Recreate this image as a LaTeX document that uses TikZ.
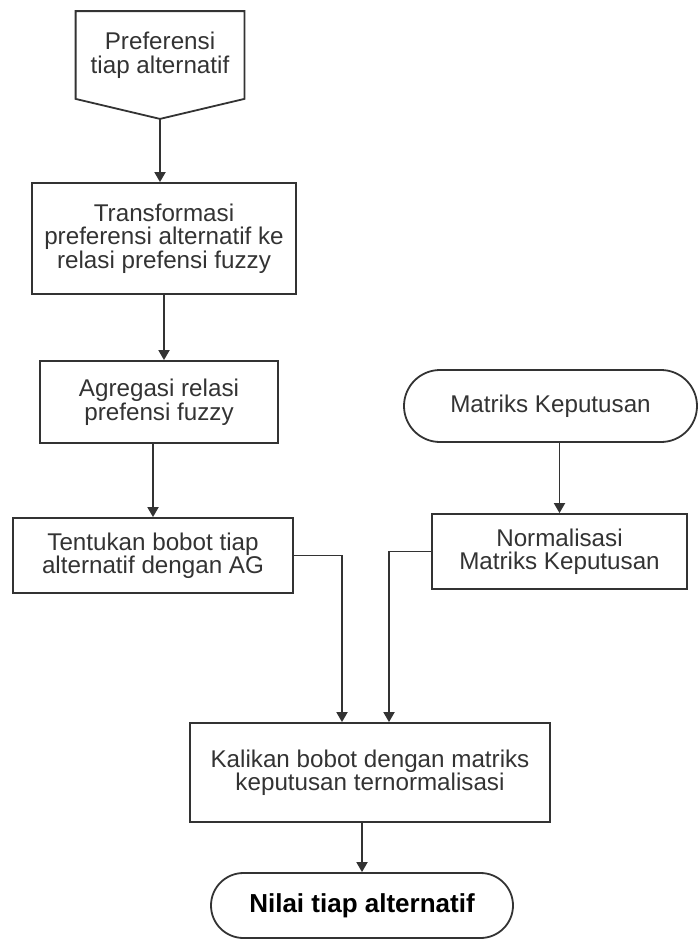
\documentclass[tikz,border=0pt]{standalone}
\usepackage{fontspec}
\setmainfont{Liberation Sans}
\usetikzlibrary{arrows.meta,shapes.misc,positioning}

\begin{document}
\begin{tikzpicture}[
    x=1pt, y=-1pt,
    >={Triangle[width=11pt,length=10pt]},
    line width=1.8pt,
    every node/.style={font=\fontsize{24.2}{23.5}\selectfont, text=black!80, align=center, inner sep=0pt},
    block/.style={rectangle, draw=black!80},
    term/.style={rounded rectangle, draw=black!80}
  ]
  \useasboundingbox (0,0) rectangle (699,940);

  % Blocks
  \node [minimum width=167, minimum height=86] (pref) at (160,55) {Preferensi\\tiap alternatif};
  \coordinate (preftip) at ([yshift=-20pt]pref.south);
  \draw [black!80] (pref.north west) -- (pref.north east) -- (pref.south east) -- (preftip) -- (pref.south west) -- cycle;

  \node [block, minimum width=264, minimum height=111] (trans) at (164,238.5) {Transformasi\\preferensi alternatif ke\\relasi prefensi fuzzy};
  \node [block, minimum width=238, minimum height=82] (agreg) at (159,402) {Agregasi relasi\\prefensi fuzzy};
  \node [block, minimum width=280, minimum height=75] (bobot) at (153,555.5) {Tentukan bobot tiap\\alternatif dengan AG};
  \node [term, minimum width=293, minimum height=72] (matriks) at (550.5,406) {Matriks Keputusan};
  \node [block, minimum width=255, minimum height=75] (norm) at (559.5,551.5) {Normalisasi\\Matriks Keputusan};
  \node [block, minimum width=360, minimum height=99] (kali) at (370,772.5) {Kalikan bobot dengan matriks\\keputusan ternormalisasi};
  \node [term, minimum width=302, minimum height=65, text=black, font=\bfseries\fontsize{26}{26}\selectfont] (nilai) at (362,905.5) {Nilai tiap alternatif};

  % Connections
  \draw [->, black!80] (preftip) -- (preftip |- trans.north);
  \draw [->, black!80] (trans.south) -- (trans.south |- agreg.north);
  \draw [->, black!80] (bobot.north |- agreg.south) -- (bobot.north);
  \draw [->, black!80] (norm.north |- matriks.south) -- (norm.north);
  \draw [->, black!80] (bobot.east) -| ([xshift=-28pt]kali.north);
  \draw [->, black!80] (norm.west) -| ([xshift=19pt]kali.north);
  \draw [->, black!80] (nilai.north |- kali.south) -- (nilai.north);
\end{tikzpicture}
\end{document}
